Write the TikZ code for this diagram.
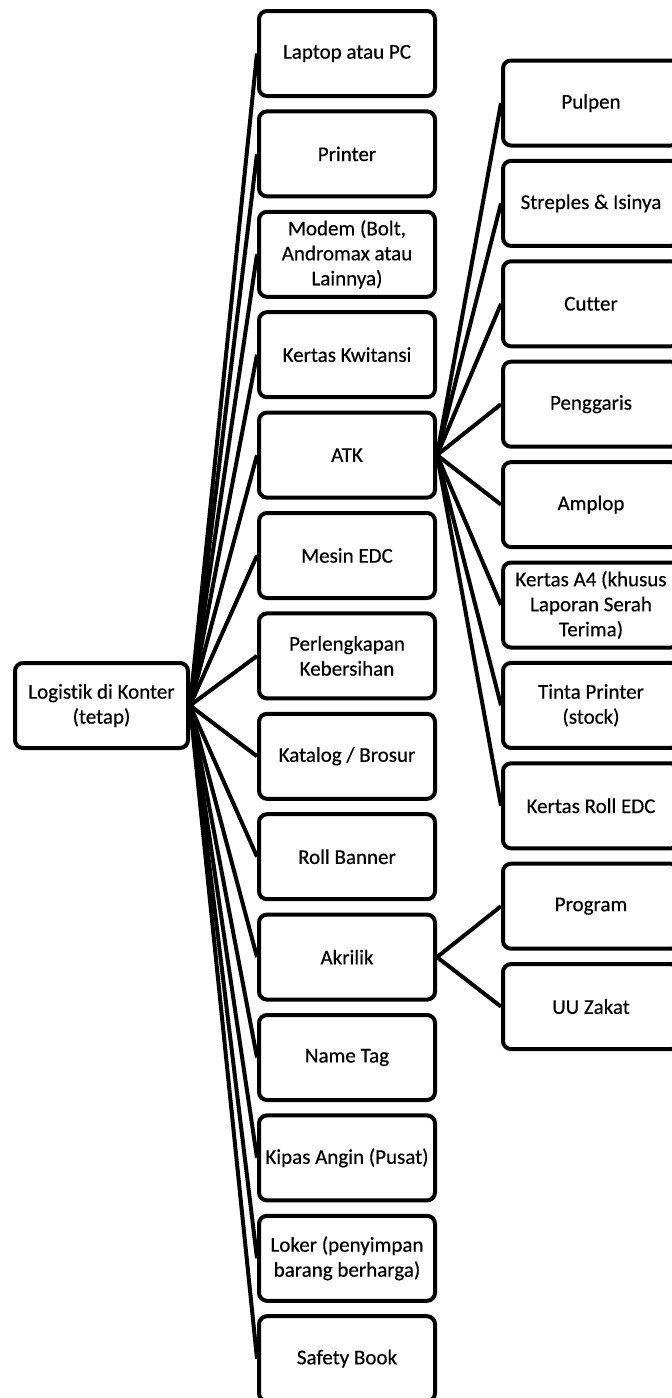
\documentclass[tikz,border=0pt]{standalone}
\usepackage{fontspec}
\setmainfont{Carlito}[Ligatures=NoCommon, FakeBold=0.4]
\usetikzlibrary{positioning}

\begin{document}
\begin{tikzpicture}[
            x=1pt, y=-1pt,
            node distance=11.4pt,
            itembox/.style={rectangle, rounded corners=8pt, draw=black, line width=4pt,
                            minimum width=176pt, minimum height=85pt, align=center,
                            font=\fontsize{21}{25}\selectfont},
            rootbox/.style={itembox, minimum width=173pt},
            link/.style={draw=black, line width=4pt},
        ]
        \useasboundingbox (0,0) rectangle (672,1398);

        %Nodes
        \node[rootbox]  (logistik)   at (101.5,705.5)           {Logistik di Konter\\(tetap)};

        \node[itembox]  (laptop)     at (347,53.5)              {Laptop atau PC};
        \node[itembox]  (printer)    [below=of laptop]          {Printer};
        \node[itembox]  (modem)      [below=of printer]         {Modem (Bolt,\\Andromax atau\\Lainnya)};
        \node[itembox]  (kwitansi)   [below=of modem]           {Kertas Kwitansi};
        \node[itembox]  (atk)        [below=of kwitansi]        {ATK};
        \node[itembox]  (edc)        [below=of atk]             {Mesin EDC};
        \node[itembox]  (kebersihan) [below=of edc]             {Perlengkapan\\Kebersihan};
        \node[itembox]  (katalog)    [below=of kebersihan]      {Katalog / Brosur};
        \node[itembox]  (banner)     [below=of katalog]         {Roll Banner};
        \node[itembox]  (akrilik)    [below=of banner]          {Akrilik};
        \node[itembox]  (nametag)    [below=of akrilik]         {Name Tag};
        \node[itembox]  (kipas)      [below=of nametag]         {Kipas Angin (Pusat)};
        \node[itembox]  (loker)      [below=of kipas]           {Loker (penyimpan\\barang berharga)};
        \node[itembox]  (safety)     [below=of loker]           {Safety Book};

        \node[itembox]  (pulpen)     at (591,103)               {Pulpen};
        \node[itembox]  (streples)   [below=of pulpen]          {Streples \& Isinya};
        \node[itembox]  (cutter)     [below=of streples]        {Cutter};
        \node[itembox]  (penggaris)  [below=of cutter]          {Penggaris};
        \node[itembox]  (amplop)     [below=of penggaris]       {Amplop};
        \node[itembox]  (kertasa)    [below=of amplop]          {Kertas A4 (khusus\\Laporan Serah\\Terima)};
        \node[itembox]  (tinta)      [below=of kertasa]         {Tinta Printer\\(stock)};
        \node[itembox]  (kertasroll) [below=of tinta]           {Kertas Roll EDC};
        \node[itembox]  (program)    [below=of kertasroll]      {Program};
        \node[itembox]  (uuzakat)    [below=of program]         {UU Zakat};

        %Lines
        \draw[link] (logistik.east) -- (laptop.west);
        \draw[link] (logistik.east) -- (printer.west);
        \draw[link] (logistik.east) -- (modem.west);
        \draw[link] (logistik.east) -- (kwitansi.west);
        \draw[link] (logistik.east) -- (atk.west);
        \draw[link] (logistik.east) -- (edc.west);
        \draw[link] (logistik.east) -- (kebersihan.west);
        \draw[link] (logistik.east) -- (katalog.west);
        \draw[link] (logistik.east) -- (banner.west);
        \draw[link] (logistik.east) -- (akrilik.west);
        \draw[link] (logistik.east) -- (nametag.west);
        \draw[link] (logistik.east) -- (kipas.west);
        \draw[link] (logistik.east) -- (loker.west);
        \draw[link] (logistik.east) -- (safety.west);

        \draw[link] (atk.east) -- (pulpen.west);
        \draw[link] (atk.east) -- (streples.west);
        \draw[link] (atk.east) -- (cutter.west);
        \draw[link] (atk.east) -- (penggaris.west);
        \draw[link] (atk.east) -- (amplop.west);
        \draw[link] (atk.east) -- (kertasa.west);
        \draw[link] (atk.east) -- (tinta.west);
        \draw[link] (atk.east) -- (kertasroll.west);

        \draw[link] (akrilik.east) -- (program.west);
        \draw[link] (akrilik.east) -- (uuzakat.west);
    \end{tikzpicture}
\end{document}
